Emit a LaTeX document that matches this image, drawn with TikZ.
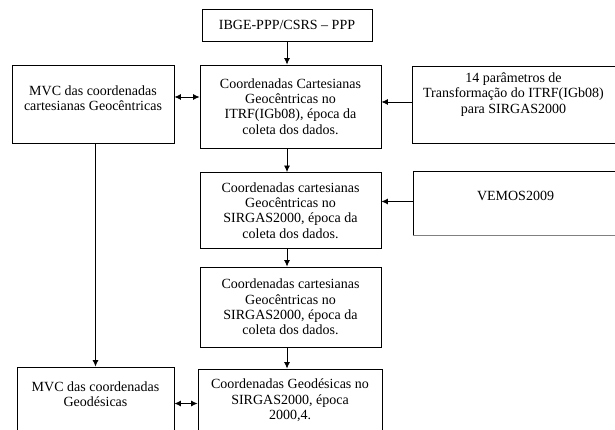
\documentclass[tikz,border=0pt]{standalone}
\usepackage{fontspec}
\setmainfont{Liberation Serif}
\usetikzlibrary{calc, arrows.meta}

\begin{document}
\begin{tikzpicture}[
    x=1pt, y=-1pt,
    box/.style = {draw, line width=0.9pt, inner sep=0pt},
    txt/.style = {align=center, inner sep=0pt, font=\rmfamily\fontsize{14}{15.4}\selectfont},
    >={Latex[length=6.5pt, width=6pt]},
    seta/.style = {->, line width=0.8pt},
  ]

  \useasboundingbox (0,0) rectangle (615,430);

  % ---------- coluna central ----------
  \node[box, txt, minimum width=170, minimum height=32] (ppp) at (287,25)
        {IBGE-PPP/CSRS -- PPP};
  \node[box, txt, minimum width=181, minimum height=83] (itrf) at (290.5,106.5)
        {Coordenadas Cartesianas\\Geocêntricas no\\ITRF(IGb08), época da\\coleta dos dados.};
  \node[box, txt, minimum width=181, minimum height=76] (sirA) at (290.5,210.5)
        {Coordenadas cartesianas\\Geocêntricas no\\SIRGAS2000, época da\\coleta dos dados.};
  \node[box, txt, minimum width=181, minimum height=80] (sirB) at (290.5,307)
        {Coordenadas cartesianas\\Geocêntricas no\\SIRGAS2000, época da\\coleta dos dados.};
  \node[box, minimum width=184, minimum height=71] (geod) at (290,404.5) {};
  \node[txt] (geodtxt) at (290,400.5)
        {Coordenadas Geodésicas no\\SIRGAS2000, época\\2000,4.};

  % ---------- coluna da esquerda (MVC) ----------
  \node[box, minimum width=162, minimum height=78] (mvcA) at (93,104) {};
  \node[txt] (mvcAtxt) at (93,98.5)
        {MVC das coordenadas\\cartesianas Geocêntricas};
  \node[box, minimum width=157, minimum height=73] (mvcB) at (95.5,403.5) {};
  \node[txt] (mvcBtxt) at (95.5,394.5) {MVC das coordenadas\\Geodésicas};

  % ---------- coluna da direita (cortada na borda) ----------
  \node[box, minimum width=208, minimum height=77] (param) at (516,104.5) {};
  \node[txt] (paramtxt) at (513.5,94.5)
        {14 parâmetros de\\Transformação do ITRF(IGb08)\\para SIRGAS2000};
  \node[box, minimum width=207, minimum height=64] (vemos) at (516.5,203) {};
  \node[txt] (vemostxt) at (515.5,196) {VEMOS2009};
  \draw[gray, line width=1.2pt] (vemos.south west) -- (vemos.south east);

  % ---------- setas verticais ----------
  \draw[seta] (ppp) -- (ppp.south |- itrf.north);
  \draw[seta] (itrf.south -| ppp.south) -- (ppp.south |- sirA.north);
  \draw[seta] (sirA.south -| ppp.south) -- (ppp.south |- sirB.north);
  \draw[seta] (sirB.south -| ppp.south) -- (ppp.south |- geod.north);
  \draw[seta] (mvcA.south -| mvcB.north) -- (mvcB.north);

  % ---------- setas horizontais ----------
  \draw[seta] ([yshift=2.5pt]param.west) -- ([yshift=2.5pt]param.west -| itrf.east);
  \draw[seta] ([yshift=1.5pt]vemos.west) -- ([yshift=1.5pt]vemos.west -| sirA.east);
  \draw[<->, line width=0.8pt] ([yshift=7pt]mvcA.east) -- ([yshift=7pt]mvcA.east -| itrf.west);
  \draw[<->, line width=0.8pt] (mvcB.east) -- (mvcB.east -| geod.west);

\end{tikzpicture}
\end{document}
